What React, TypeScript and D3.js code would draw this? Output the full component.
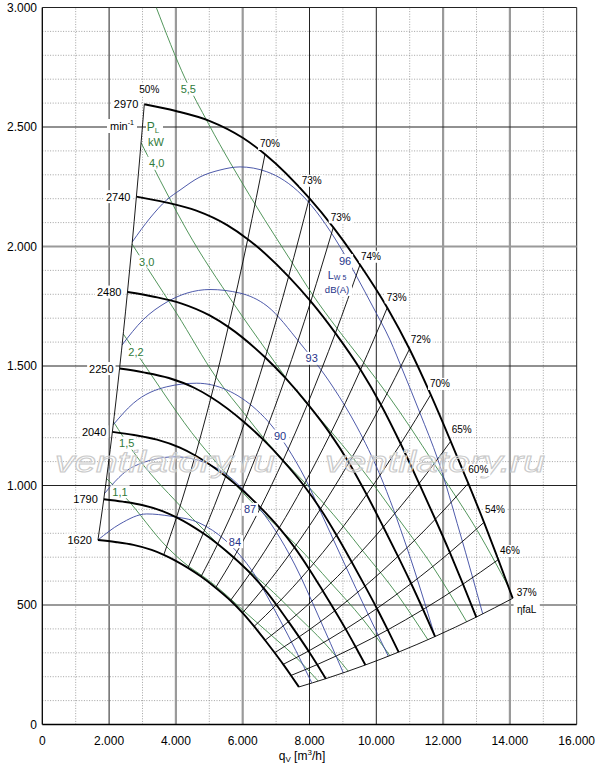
import React from "react";
import * as d3 from "d3";

// ---------- axes ----------
const xTicks = [0, 2000, 4000, 6000, 8000, 10000, 12000, 14000, 16000];
const xTickLabels = ["0", "2.000", "4.000", "6.000", "8.000", "10.000", "12.000", "14.000", "16.000"];
const yTicks = [0, 500, 1000, 1500, 2000, 2500, 3000];
const yTickLabels = ["0", "500", "1.000", "1.500", "2.000", "2.500", "3.000"];
const heavyX = [4000, 6000, 12000, 14000];
const heavyY = [500, 2000];

// ---------- fan speed curves (min-1) ----------
const speeds = [2970, 2740, 2480, 2250, 2040, 1790, 1620];
// efficiency nodes on the 2970 min-1 curve
const effLabels = ["50%", "70%", "73%", "73%", "74%", "73%", "72%", "70%", "65%", "60%", "54%", "46%", "37%"];
const effQ = [3054, 6668, 7994, 8713, 9512, 10329, 10994, 11629, 12228, 12754, 13225, 13653, 14084];
const effP = [2595, 2386, 2202, 2080, 1924, 1744, 1571, 1380, 1185, 1009, 846, 690, 528];
// extra shape points of the 2970 min-1 curve
const shapeQ = [4000, 5000, 6000];
const shapeP = [2567, 2526, 2455];
// efficiency label anchors
const effLabelQ = [3204, 6817, 8066, 8934, 9841, 10611, 11329, 11907, 12557, 13054, 13554, 14003, 14503];
const effLabelP = [2655, 2429, 2275, 2122, 1957, 1787, 1612, 1425, 1236, 1065, 900, 726, 553];

// ---------- shaft power lines P_L (kW) ----------
const powerLabels = ["5,5", "4,0", "3,0", "2,2", "1,5", "1,1"];
const pw55Q = [3413, 4272, 4970, 6369, 7486, 8099, 8828, 9624, 10320, 11028, 11730, 12389, 13000, 13555, 13957];
const pw55P = [3000, 2704, 2515, 2177, 1931, 1797, 1657, 1514, 1384, 1241, 1091, 952, 817, 680, 576];
const pw40Q = [2958, 3725, 4323, 5728, 6731, 7282, 7939, 8654, 9280, 9917, 10549, 11141, 11690, 12191, 12704];
const pw40P = [2434, 2224, 2069, 1761, 1561, 1453, 1340, 1224, 1119, 1004, 882, 770, 661, 550, 430];
const pw30Q = [2688, 3225, 4024, 5203, 6115, 6617, 7213, 7863, 8432, 9011, 9584, 10123, 10620, 11074, 11543];
const pw30P = [2010, 1893, 1720, 1453, 1289, 1200, 1106, 1011, 924, 829, 728, 636, 546, 454, 355];
const pw22Q = [2424, 2925, 4692, 5514, 5966, 6503, 7089, 7602, 8124, 8641, 9128, 9576, 9986, 10407];
const pw22P = [1634, 1532, 1182, 1048, 975, 899, 821, 751, 673, 592, 517, 444, 369, 288];
const pw15Q = [2133, 2725, 4129, 4853, 5251, 5724, 6241, 6692, 7151, 7606, 8034, 8430, 8790, 9160];
const pw15P = [1266, 1141, 915, 812, 756, 697, 637, 582, 522, 458, 400, 344, 286, 223];
const pw11Q = [1923, 2476, 3723, 4377, 4753, 5189, 5635, 6034, 6447, 6860, 7244, 7602, 7927, 8260];
const pw11P = [1029, 952, 744, 662, 626, 580, 526, 475, 424, 373, 326, 280, 233, 182];
const powerLabelQ = [4371, 3425, 3126, 2805, 2527, 2326];
const powerLabelP = [2658, 2348, 1936, 1560, 1177, 974];

// ---------- sound power lines Lw5 dB(A) ----------
const noiseLabels = ["96", "93", "90", "87", "84"];
const lw96Q = [2694, 3225, 3725, 4123, 4722, 5320, 5919, 6719, 7775, 8913, 9422, 9901, 10410, 10799, 11308, 11847, 12506, 13186];
const lw96P = [2019, 2119, 2195, 2236, 2291, 2320, 2333, 2313, 2215, 1999, 1872, 1747, 1609, 1479, 1303, 1107, 801, 463];
const lw93Q = [2389, 3015, 3734, 4332, 5021, 5919, 6728, 7716, 8704, 9422, 10111, 10919, 11757];
const lw93P = [1588, 1693, 1768, 1805, 1820, 1805, 1751, 1596, 1412, 1245, 1044, 739, 368];
const lw90Q = [2123, 2725, 3725, 4623, 5521, 6419, 6877, 7326, 7865, 8404, 9063, 9722, 10359];
const lw90P = [1254, 1344, 1413, 1428, 1400, 1316, 1249, 1161, 1031, 868, 668, 471, 286];
const lw87Q = [1864, 2725, 3973, 4922, 5719, 6368, 6967, 7566, 8254, 9012];
const lw87P = [967, 1079, 1120, 1093, 1023, 927, 814, 667, 458, 216];
const lw84Q = [1666, 2326, 3126, 3823, 4722, 5470, 6219, 7117, 8066];
const lw84P = [772, 839, 881, 872, 842, 772, 655, 437, 175];
const noiseLabelQ = [9063, 8066, 7117, 6219, 5769];
const noiseLabelP = [1941, 1532, 1207, 900, 765];

const FONT = "'Liberation Sans', Arial, Helvetica, sans-serif";
const GREEN = "#3f8a4a";
const GREEN_T = "#2f7a3a";
const BLUE = "#3a47a0";
const BLUE_T = "#26348a";

function textWidth(s: string, fs: number) {
  let w = 0;
  for (const ch of s) {
    if (ch === "%") w += 0.89;
    else if (ch === "." || ch === ",") w += 0.28;
    else if (ch === "m") w += 0.83;
    else if (ch === "i") w += 0.22;
    else w += 0.556;
  }
  return w * fs;
}

function Boxed({ x, y, text, fs, color = "#000", anchor = "middle", pad = 2 }: any) {
  const w = textWidth(text, fs) + pad * 2;
  const h = fs + 2;
  const left = anchor === "middle" ? x - w / 2 : anchor === "end" ? x - w + pad : x - pad;
  return (
    <g>
      <rect x={left} y={y - h / 2} width={w} height={h} fill="#fff" />
      <text x={x} y={y} fontSize={fs} fill={color} textAnchor={anchor} dominantBaseline="central" fontFamily={FONT}>
        {text}
      </text>
    </g>
  );
}

export default function App() {
  const x = d3.scaleLinear().domain([0, 16000]).range([42.3, 576.7]);
  const y = d3.scaleLinear().domain([0, 3000]).range([724.5, 7.5]);
  const lineGen = d3
    .line<[number, number]>()
    .x((d) => x(d[0]))
    .y((d) => y(d[1]))
    .curve(d3.curveMonotoneX);
  const pts = (qs: number[], ps: number[]) => qs.map((q, i) => [q, ps[i]] as [number, number]);

  // base curve table (2970 min-1), other speeds by the fan laws
  const base = [...pts(effQ, effP), ...pts(shapeQ, shapeP)].sort((a, b) => a[0] - b[0]);
  const speedCurves = speeds.map((n) => {
    const s = n / speeds[0];
    return { n, s, pts: base.map(([q, p]) => [q * s, p * s * s] as [number, number]) };
  });
  const effLines = effQ.map((q, i) =>
    speeds
      .map((n) => {
        const s = n / speeds[0];
        return [q * s, effP[i] * s * s] as [number, number];
      })
      .sort((a, b) => a[0] - b[0])
  );

  const powerLines = [
    pts(pw55Q, pw55P),
    pts(pw40Q, pw40P),
    pts(pw30Q, pw30P),
    pts(pw22Q, pw22P),
    pts(pw15Q, pw15P),
    pts(pw11Q, pw11P),
  ];
  const noiseLines = [pts(lw96Q, lw96P), pts(lw93Q, lw93P), pts(lw90Q, lw90P), pts(lw87Q, lw87P), pts(lw84Q, lw84P)];

  const minorX = d3.range(1000, 16000, 2000);
  const minorY = d3.range(100, 3000, 100).filter((v) => v % 500 !== 0);
  const majorX = xTicks.filter((v) => v > 0);
  const majorY = yTicks.filter((v) => v > 0);

  return (
    <div style={{ position: "absolute", left: 0, top: 0 }}>
      <svg width={600} height={763} style={{ display: "block", background: "#fff" }}>
        <defs>
          <clipPath id="plot">
            <rect x={x(0)} y={y(3000)} width={x(16000) - x(0)} height={y(0) - y(3000)} />
          </clipPath>
        </defs>
        {/* minor grid */}
        <g stroke="#8c8c8c" strokeWidth={0.8} strokeDasharray="1,1.6">
          {minorX.map((v) => (
            <line key={"mx" + v} x1={x(v)} x2={x(v)} y1={y(0)} y2={y(3000)} />
          ))}
          {minorY.map((v) => (
            <line key={"my" + v} x1={x(0)} x2={x(16000)} y1={y(v)} y2={y(v)} />
          ))}
        </g>
        {/* major grid */}
        <g>
          {majorX.map((v) => (
            <line
              key={"Mx" + v}
              x1={x(v)}
              x2={x(v)}
              y1={y(0)}
              y2={y(3000)}
              stroke={heavyX.includes(v) ? "#9a9a9a" : "#222"}
              strokeWidth={heavyX.includes(v) ? 2.2 : 1}
            />
          ))}
          {majorY.map((v) => (
            <line
              key={"My" + v}
              x1={x(0)}
              x2={x(16000)}
              y1={y(v)}
              y2={y(v)}
              stroke={heavyY.includes(v) ? "#9a9a9a" : "#222"}
              strokeWidth={heavyY.includes(v) ? 2.2 : 1}
            />
          ))}
        </g>
        {/* axes */}
        <line x1={x(0)} x2={x(0)} y1={y(0)} y2={y(3000)} stroke="#000" strokeWidth={1.3} />
        <line x1={x(0)} x2={x(16000)} y1={y(0)} y2={y(0)} stroke="#000" strokeWidth={1.3} />

        <g clipPath="url(#plot)" fill="none">
          {powerLines.map((l, i) => (
            <path key={"pw" + i} d={lineGen(l) || ""} stroke={GREEN} strokeWidth={0.9} />
          ))}
          {noiseLines.map((l, i) => (
            <path key={"lw" + i} d={lineGen(l) || ""} stroke={BLUE} strokeWidth={0.9} />
          ))}
          {effLines.map((l, i) => (
            <path key={"ef" + i} d={lineGen(l) || ""} stroke="#000" strokeWidth={0.9} />
          ))}
          {speedCurves.map((c) => (
            <path key={"n" + c.n} d={lineGen(c.pts) || ""} stroke="#000" strokeWidth={1.9} />
          ))}
        </g>

        {/* watermark (under the labels) */}
        <g fontFamily={FONT} fontStyle="italic" fontSize={29} fill="#ffffff" fillOpacity={0.3} stroke="#cacaca" strokeWidth={1}>
          <text x={55} y={472} textLength={220} lengthAdjust="spacingAndGlyphs">
            ventilatory.ru
          </text>
          <text x={325} y={472} textLength={220} lengthAdjust="spacingAndGlyphs">
            ventilatory.ru
          </text>
        </g>

        {/* speed labels */}
        {speedCurves.map((c) => (
          <Boxed key={"nl" + c.n} x={x(c.pts[0][0]) - 6} y={y(c.pts[0][1])} text={String(c.n)} fs={11} anchor="end" />
        ))}
        {/* efficiency labels */}
        {effLabels.map((t, i) => (
          <Boxed key={"el" + i} x={x(effLabelQ[i])} y={y(effLabelP[i])} text={t} fs={10} />
        ))}
        <Boxed x={x(14503)} y={y(482)} text={"ηfaL"} fs={10} />
        {/* power labels */}
        {powerLabels.map((t, i) => (
          <Boxed key={"pl" + i} x={x(powerLabelQ[i])} y={y(powerLabelP[i])} text={t} fs={11} color={GREEN_T} />
        ))}
        {/* noise labels */}
        {noiseLabels.map((t, i) => (
          <Boxed key={"ll" + i} x={x(noiseLabelQ[i])} y={y(noiseLabelP[i])} text={t} fs={11} color={BLUE_T} />
        ))}

        {/* unit labels */}
        <rect x={107} y={119} width={30} height={14} fill="#fff" />
        <text x={122} y={126} fontSize={11} fontFamily={FONT} textAnchor="middle" dominantBaseline="central">
          min<tspan fontSize={7} dy={-4}>-1</tspan>
        </text>
        <rect x={146} y={119} width={17} height={30} fill="#fff" />
        <text x={153} y={127} fontSize={12} fontFamily={FONT} textAnchor="middle" dominantBaseline="central" fill={GREEN_T}>
          P<tspan fontSize={8} dy={3}>L</tspan>
        </text>
        <text x={156} y={142} fontSize={11} fontFamily={FONT} textAnchor="middle" dominantBaseline="central" fill={GREEN_T}>
          kW
        </text>
        <rect x={322} y={267} width={30} height={29} fill="#fff" />
        <text x={337} y={275} fontSize={11} fontFamily={FONT} textAnchor="middle" dominantBaseline="central" fill={BLUE_T}>
          L<tspan fontSize={7} dy={2}>W 5</tspan>
        </text>
        <text x={337} y={289} fontSize={9.5} fontFamily={FONT} textAnchor="middle" dominantBaseline="central" fill={BLUE_T}>
          dB(A)
        </text>

        {/* tick labels */}
        {yTicks.map((v, i) => (
          <text key={"yt" + v} x={37} y={y(v)} fontSize={12} fontFamily={FONT} textAnchor="end" dominantBaseline="central">
            {yTickLabels[i]}
          </text>
        ))}
        {xTicks.map((v, i) => (
          <text key={"xt" + v} x={x(v)} y={741} fontSize={12} fontFamily={FONT} textAnchor="middle" dominantBaseline="central">
            {xTickLabels[i]}
          </text>
        ))}
        <text x={302} y={756} fontSize={12} fontFamily={FONT} textAnchor="middle" dominantBaseline="central">
          q<tspan fontSize={8} dy={3}>V</tspan>
          <tspan dy={-3}> [m</tspan>
          <tspan fontSize={8} dy={-4}>3</tspan>
          <tspan dy={4}>/h]</tspan>
        </text>
      </svg>
    </div>
  );
}
